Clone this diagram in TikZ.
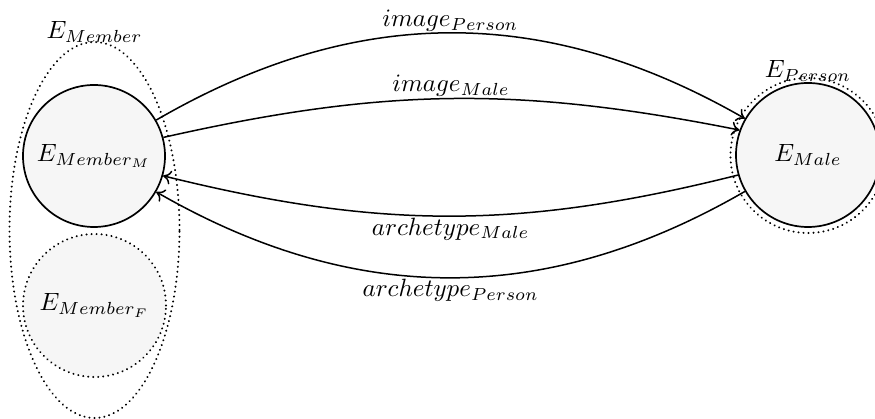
\documentclass[tikz,border=0pt]{standalone}
\usepackage{graphicx}
\usetikzlibrary{arrows.meta,shapes.geometric}
\newcommand\mtx[1]{\scalebox{2.5}{$#1$}}
\begin{document}
\begin{tikzpicture}[x=1pt,y=1pt,
  every node/.style={font=\fontsize{10}{12}\selectfont},
  ent/.style={circle,draw,line width=1.7pt,fill=gray!7,minimum size=142pt,inner sep=0pt},
  dotl/.style={line width=2.2pt,dash pattern=on 0.01pt off 5pt,line cap=round},
  arr/.style={line width=1.5pt,-{To[length=8pt,width=14pt]}}]
\useasboundingbox (0,0) rectangle (875,419);
% left group
\node[ellipse,dotl,draw,minimum width=170pt,minimum height=376pt,inner sep=0pt] (grp) at (94.5,189) {};
\node[ent] (mm) at (94,263) {\mtx{E_{Member_M}}};
\node[ent,draw=none,fill=gray!7] (mf) at (94.5,113.5) {\mtx{E_{Member_F}}};
\node[circle,dotl,draw,minimum size=143pt,inner sep=0pt] (mfb) at (94.5,113.5) {};
\node[anchor=south] (lgrp) at ([yshift=-5pt]grp.north) {\mtx{E_{Member}}};
% right group
\node[circle,dotl,draw,minimum size=155pt,inner sep=0pt] (pers) at (808,263.5) {};
\node[ent,minimum size=144pt] (male) at (808,264) {\mtx{E_{Male}}};
\node[anchor=south] (lpers) at ([yshift=-8pt]pers.north) {\mtx{E_{Person}}};
% arrows
\draw[arr] (mm.30) to[bend left=30] node[midway,above,inner sep=1pt] (l1) {\mtx{image_{Person}}} (male.150);
\draw[arr] (mm.15) to[bend left=12] node[midway,above,inner sep=1pt] (l2) {\mtx{image_{Male}}} (male.160);
\draw[arr] (male.196) to[bend left=14] node[midway,below,inner sep=1pt] (l3) {\mtx{archetype_{Male}}} (mm.-16);
\draw[arr] (male.210) to[bend left=30] node[midway,below,inner sep=1pt] (l4) {\mtx{archetype_{Person}}} (mm.-30);
\end{tikzpicture}
\end{document}
